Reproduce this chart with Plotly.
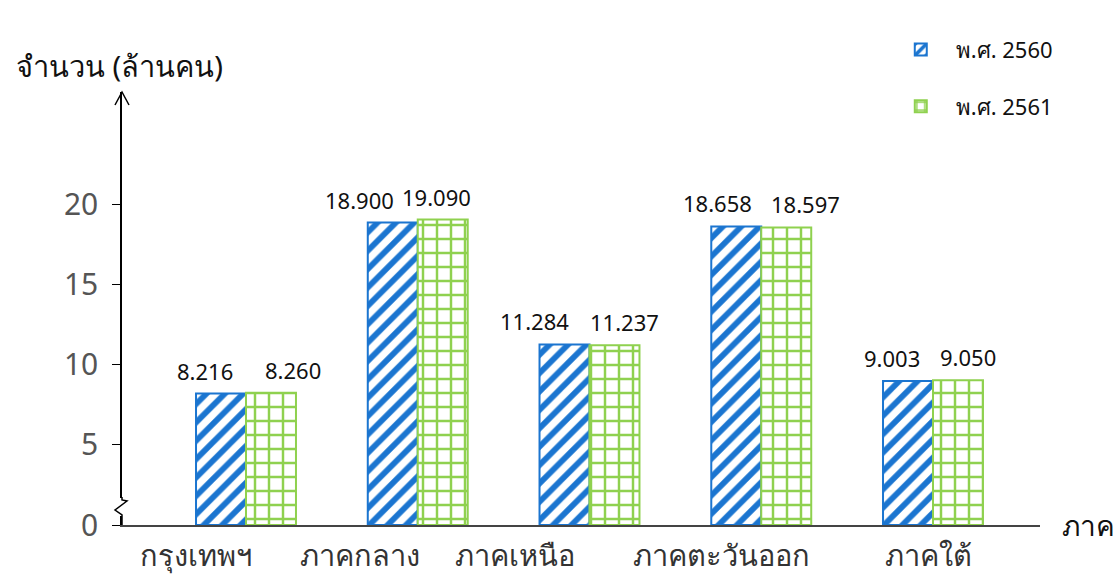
import plotly.graph_objects as go

categories = ["กรุงเทพฯ", "ภาคกลาง", "ภาคเหนือ", "ภาคตะวันออก", "ภาคใต้"]
series_names = ["พ.ศ. 2560", "พ.ศ. 2561"]
values_2560 = [8.216, 18.900, 11.284, 18.658, 9.003]
values_2561 = [8.260, 19.090, 11.237, 18.597, 9.050]
label_2560 = ["8.216", "18.900", "11.284", "18.658", "9.003"]
label_2561 = ["8.260", "19.090", "11.237", "18.597", "9.050"]
y_ticks = [0, 5, 10, 15, 20]

BLUE = "#1B75D0"
GREEN = "#8FD14F"
FONT = "Noto Sans, DejaVu Sans, sans-serif"
cat_shift = [-50, -58, -75, -40, -5]
shift_2560 = [-41, -58, -55, -44, -41]
shift_2561 = [47, 19, 35, 44, 35]

fig = go.Figure()
fig.add_trace(go.Bar(
    name=series_names[0], x=categories, y=values_2560, legendgroup="a",
    marker=dict(color="white", line=dict(color=BLUE, width=2),
                pattern=dict(shape="/", fgcolor=BLUE, bgcolor="white", size=13,
                             solidity=0.45, fgopacity=1)),
))
fig.add_trace(go.Bar(
    name=series_names[1], x=categories, y=values_2561, legendgroup="b",
    marker=dict(color="white", line=dict(color=GREEN, width=2),
                pattern=dict(shape="+", fgcolor=GREEN, bgcolor="white", size=14,
                             solidity=0.32, fgopacity=1)),
))

annotations = []
for c, v, t, s in zip(categories, values_2560, label_2560, shift_2560):
    annotations.append(dict(x=c, y=v, text=t, showarrow=False, xshift=s, yshift=6,
                            yanchor="bottom", font=dict(size=22, color="#111", family=FONT)))
for c, v, t, s in zip(categories, values_2561, label_2561, shift_2561):
    annotations.append(dict(x=c, y=v, text=t, showarrow=False, xshift=s, yshift=6,
                            yanchor="bottom", font=dict(size=22, color="#111", family=FONT)))
for c, s in zip(categories, cat_shift):
    annotations.append(dict(x=c, yref="paper", y=0, yshift=-8, xshift=s, yanchor="top",
                            text=c, showarrow=False,
                            font=dict(size=29, color="#333", family=FONT)))
annotations.append(dict(xref="paper", yref="paper", x=0, y=1.062, xshift=-108, xanchor="left",
                        yanchor="middle", text="จำนวน (ล้านคน)", showarrow=False,
                        font=dict(size=29, color="#111", family=FONT)))
annotations.append(dict(xref="paper", yref="paper", x=1, y=0, xshift=20, xanchor="left",
                        yanchor="middle", text="ภาค", showarrow=False,
                        font=dict(size=28, color="#111", family=FONT)))

shapes = [
    dict(type="path", xref="paper", yref="paper", xsizemode="pixel", ysizemode="pixel",
         xanchor=0, yanchor=1, path="M-7,-13 L0,0 L7,-13", line=dict(color="black", width=1.5)),
    dict(type="path", xref="paper", yref="paper", xsizemode="pixel", ysizemode="pixel",
         xanchor=0, yanchor=0, path="M0,9 L0,27", line=dict(color="white", width=4)),
    dict(type="path", xref="paper", yref="paper", xsizemode="pixel", ysizemode="pixel",
         xanchor=0, yanchor=0, path="M0,28 L0,25 L5,24 L-7,15 L0,10 L0,0",
         line=dict(color="black", width=1.5)),
]

fig.update_layout(
    width=1117, height=578,
    margin=dict(l=122, r=77, t=92, b=53, autoexpand=False),
    paper_bgcolor="white", plot_bgcolor="white",
    barmode="group", bargap=0.418, bargroupgap=0,
    font=dict(family=FONT, color="#222"),
    showlegend=True,
    legend=dict(x=0.832, y=1.146, xanchor="left", yanchor="top", traceorder="grouped",
                tracegroupgap=25, font=dict(size=22, color="#111", family=FONT),
                itemwidth=60),
    annotations=annotations,
    shapes=shapes,
)
fig.update_xaxes(range=[-0.722, 4.623], showline=True, linecolor="#444", linewidth=2,
                 ticks="", showticklabels=False, showgrid=False)
fig.update_yaxes(range=[0, 27.06], tickvals=y_ticks, showline=True, linecolor="black",
                 linewidth=1.5, ticks="outside", ticklen=8, tickcolor="black",
                 ticklabelstandoff=8, showgrid=False, zeroline=False,
                 tickfont=dict(size=30, color="#555", family=FONT))

fig.write_html("out.html", config={"displayModeBar": False},
               post_script="document.body.style.margin='0';document.body.style.overflow='hidden';")
